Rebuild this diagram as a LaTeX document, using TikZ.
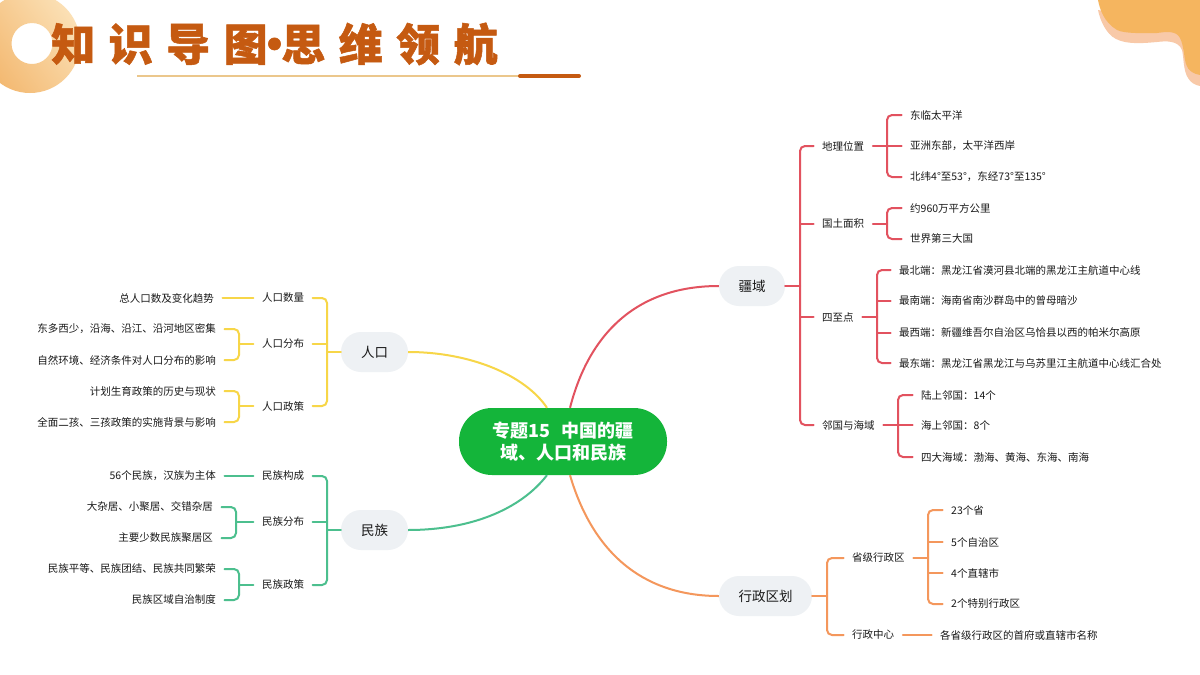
\documentclass[tikz,border=0pt]{standalone}
\usepackage{fontspec}
\usetikzlibrary{calc}
\setmainfont{Noto Sans CJK SC}
\newfontfamily\titlefont{Noto Sans CJK SC}[BoldFeatures={FakeBold=1.2}]
\definecolor{cred}{HTML}{E2525F}
\definecolor{cyel}{HTML}{F7D648}
\definecolor{cgrn}{HTML}{4CBF8E}
\definecolor{corg}{HTML}{F4975C}
\definecolor{cgray}{HTML}{EEF1F4}
\definecolor{cmain}{HTML}{14B53A}
\definecolor{ctitle}{HTML}{C55A11}
\definecolor{ringA}{HTML}{F3B870}
\definecolor{ringB}{HTML}{FBE0B5}
\definecolor{pinkA}{HTML}{F8C9A8}
\definecolor{orgA}{HTML}{F5B55F}
\definecolor{ruleCol}{HTML}{EBC78C}
\tikzset{
  leaf/.style={inner xsep=8.5pt,inner ysep=1pt,text=black!90,font=\fontsize{10.5}{12}\selectfont},
  topic/.style={rounded corners=20pt,fill=cgray,minimum height=40pt,inner sep=0pt,text=black!90,font=\fontsize{13.5}{16}\selectfont},
  wire/.style={line width=2pt,rounded corners=5pt,line cap=round},
  link/.style={line width=2pt}
}
\newcommand{\trunk}[4]{\draw[wire,#1] (#2) -| (#3) |- (#4);}
\newcommand{\twig}[3]{\draw[wire,#1] (#3 -| #2) -- (#3);}
\newcommand{\stub}[3]{\draw[wire,#1] (#2) -- (#3);}
\begin{document}
\begin{tikzpicture}[x=1pt,y=-1pt]
\useasboundingbox (0,0) rectangle (1200,675);
\fill[white] (0,0) rectangle (1200,675);
\begin{scope}
\clip (0,0) rectangle (1200,675);
\shade[left color=ringA,right color=ringB,shading angle=125,even odd rule] (30,43) circle (50) (32,43.5) circle (20.5);
\fill[pinkA] (1098,10) .. controls (1100,20) and (1106,34) .. (1116,39) .. controls (1128,45) and (1145,43) .. (1157,42) .. controls (1165,41) and (1178,40) .. (1182,50) .. controls (1184,58) and (1183,70) .. (1188,78) .. controls (1191,83) and (1195,85) .. (1200,86) -- (1200,40) -- (1150,20) -- cycle;
\fill[orgA] (1098,0) .. controls (1100,10) and (1104,22) .. (1117,30) .. controls (1125,34) and (1145,33) .. (1157,33) .. controls (1165,32) and (1176,30) .. (1180,38) .. controls (1184,46) and (1184,58) .. (1186,64) .. controls (1188,71) and (1194,74) .. (1200,75) -- (1200,0) -- cycle;
\end{scope}
\node[anchor=center,text=ctitle,inner sep=0pt,font=\titlefont\bfseries\fontsize{44}{50}\selectfont] (title) at (274.5,44) {知\hspace{13.5pt}识\hspace{13.5pt}导\hspace{13.5pt}图\makebox[13.5pt][c]{•}思\hspace{13.5pt}维\hspace{13.5pt}领\hspace{13.5pt}航};
\coordinate (ruleA) at (137,76);
\coordinate (ruleB) at (520,76);
\coordinate (ruleC) at (579,76);
\draw[line width=1.6pt,color=ruleCol] (ruleA) -- (ruleB);
\draw[line width=4pt,color=ctitle,line cap=round] (ruleB) -- (ruleC);

% main nodes
\node[fill=cmain,rounded corners=33pt,minimum width=208pt,minimum height=67pt,inner sep=0pt,text=white,align=center,font=\fontsize{18}{22}\selectfont\bfseries] (c) at (563,441.5) {专题15\hspace{12pt}中国的疆\\域、人口和民族};
\node[topic,minimum width=66pt] (A) at (752,286) {疆域};
\node[topic,minimum width=93pt] (B) at (765.5,596) {行政区划};
\node[topic,minimum width=67pt] (P) at (374.5,352) {人口};
\node[topic,minimum width=67pt] (N) at (374.5,530) {民族};

\draw[link,cred] ($(c.north)+(7,0)$) .. controls (590,330) and (640,286) .. (A.west);
\draw[link,corg] ($(c.south)+(7,0)$) .. controls (595,560) and (650,596) .. (B.west);
\draw[link,cyel] ($(c.north)+(-16,0)$) .. controls (525,375) and (470,352) .. (P.east);
\draw[link,cgrn] ($(c.south)+(-16,0)$) .. controls (520,510) and (470,530) .. (N.east);

% red branch
\node[leaf,anchor=west] (a1) at (813.5,146) {地理位置};
\node[leaf,anchor=west] (a2) at (813.5,224) {国土面积};
\node[leaf,anchor=west] (a3) at (813.5,317) {四至点};
\node[leaf,anchor=west] (a4) at (813.5,425) {邻国与海域};
\node[leaf,anchor=west] (a11) at (901.5,115) {东临太平洋};
\node[leaf,anchor=west] (a12) at (901.5,146) {亚洲东部，太平洋西岸};
\node[leaf,anchor=west] (a13) at (901.5,177) {北纬4°至53°，东经73°至135°};
\node[leaf,anchor=west] (a21) at (901.5,208) {约960万平方公里};
\node[leaf,anchor=west] (a22) at (901.5,239) {世界第三大国};
\node[leaf,anchor=west] (a31) at (890.5,270) {最北端：黑龙江省漠河县北端的黑龙江主航道中心线};
\node[leaf,anchor=west] (a32) at (890.5,301) {最南端：海南省南沙群岛中的曾母暗沙};
\node[leaf,anchor=west] (a33) at (890.5,333) {最西端：新疆维吾尔自治区乌恰县以西的帕米尔高原};
\node[leaf,anchor=west] (a34) at (890.5,363) {最东端：黑龙江省黑龙江与乌苏里江主航道中心线汇合处};
\node[leaf,anchor=west] (a41) at (912.5,395) {陆上邻国：14个};
\node[leaf,anchor=west] (a42) at (912.5,425) {海上邻国：8个};
\node[leaf,anchor=west] (a43) at (912.5,457) {四大海域：渤海、黄海、东海、南海};
\coordinate (ja) at (800,286);
\stub{cred}{A.east}{ja}
\trunk{cred}{a1.west}{ja}{a4.west}
\twig{cred}{ja}{a2.west}
\twig{cred}{ja}{a3.west}
\coordinate (ja1) at (887,146);
\stub{cred}{a1.east}{a12.west}
\trunk{cred}{a11.west}{ja1}{a13.west}
\coordinate (ja2) at (887,224);
\stub{cred}{a2.east}{ja2}
\trunk{cred}{a21.west}{ja2}{a22.west}
\coordinate (ja3) at (877,317);
\stub{cred}{a3.east}{ja3}
\trunk{cred}{a31.west}{ja3}{a34.west}
\twig{cred}{ja3}{a32.west}
\twig{cred}{ja3}{a33.west}
\coordinate (ja4) at (898,425);
\stub{cred}{a4.east}{a42.west}
\trunk{cred}{a41.west}{ja4}{a43.west}

% orange branch
\node[leaf,anchor=west] (b1) at (843.5,558) {省级行政区};
\node[leaf,anchor=west] (b2) at (843.5,635) {行政中心};
\node[leaf,anchor=west] (b11) at (942.5,510) {23个省};
\node[leaf,anchor=west] (b12) at (942.5,542) {5个自治区};
\node[leaf,anchor=west] (b13) at (942.5,573) {4个直辖市};
\node[leaf,anchor=west] (b14) at (942.5,604) {2个特别行政区};
\node[leaf,anchor=west] (b21) at (931.5,635) {各省级行政区的首府或直辖市名称};
\coordinate (jb) at (827,596);
\stub{corg}{B.east}{jb}
\trunk{corg}{b1.west}{jb}{b2.west}
\coordinate (jb1) at (928,558);
\stub{corg}{b1.east}{jb1}
\trunk{corg}{b11.west}{jb1}{b14.west}
\twig{corg}{jb1}{b12.west}
\twig{corg}{jb1}{b13.west}
\stub{corg}{b2.east}{b21.west}

% yellow branch
\node[leaf] (p1) at (283,298) {人口数量};
\node[leaf] (p2) at (283,344) {人口分布};
\node[leaf] (p3) at (283,406) {人口政策};
\node[leaf,anchor=east] (p11) at (222.5,298) {总人口数及变化趋势};
\node[leaf,anchor=east] (p21) at (224.5,329) {东多西少，沿海、沿江、沿河地区密集};
\node[leaf,anchor=east] (p22) at (224.5,360) {自然环境、经济条件对人口分布的影响};
\node[leaf,anchor=east] (p31) at (224.5,391) {计划生育政策的历史与现状};
\node[leaf,anchor=east] (p32) at (224.5,422) {全面二孩、三孩政策的实施背景与影响};
\coordinate (jp) at (327,352);
\stub{cyel}{P.west}{jp}
\trunk{cyel}{p1.east}{jp}{p3.east}
\twig{cyel}{jp}{p2.east}
\stub{cyel}{p1.west}{p11.east}
\coordinate (jp2) at (239,344);
\stub{cyel}{p2.west}{jp2}
\trunk{cyel}{p21.east}{jp2}{p22.east}
\coordinate (jp3) at (239,406);
\stub{cyel}{p3.west}{jp3}
\trunk{cyel}{p31.east}{jp3}{p32.east}

% green branch
\node[leaf] (n1) at (283,476) {民族构成};
\node[leaf] (n2) at (283,522) {民族分布};
\node[leaf] (n3) at (283,585) {民族政策};
\node[leaf,anchor=east] (n11) at (224.5,476) {56个民族，汉族为主体};
\node[leaf,anchor=east] (n21) at (221.5,507) {大杂居、小聚居、交错杂居};
\node[leaf,anchor=east] (n22) at (221.5,538) {主要少数民族聚居区};
\node[leaf,anchor=east] (n31) at (224.5,569) {民族平等、民族团结、民族共同繁荣};
\node[leaf,anchor=east] (n32) at (224.5,600) {民族区域自治制度};
\coordinate (jn) at (327,530);
\stub{cgrn}{N.west}{jn}
\trunk{cgrn}{n1.east}{jn}{n3.east}
\twig{cgrn}{jn}{n2.east}
\stub{cgrn}{n1.west}{n11.east}
\coordinate (jn2) at (236,522);
\stub{cgrn}{n2.west}{jn2}
\trunk{cgrn}{n21.east}{jn2}{n22.east}
\coordinate (jn3) at (239,585);
\stub{cgrn}{n3.west}{jn3}
\trunk{cgrn}{n31.east}{jn3}{n32.east}
\end{tikzpicture}
\end{document}
